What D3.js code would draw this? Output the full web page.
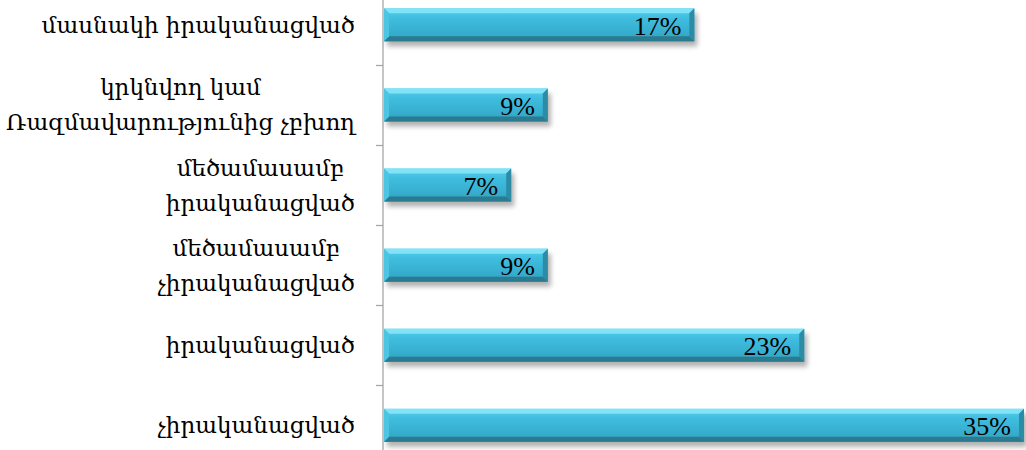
<!DOCTYPE html>
<html><head><meta charset="utf-8">
<script src="https://cdn.jsdelivr.net/npm/d3@7"></script>
<style>html,body{margin:0;padding:0;background:#fff;overflow:hidden}</style>
</head><body>
<svg id="chart" width="1026" height="450"></svg>
<script>
const categories = [
  ["մասնակի իրականացված"],
  ["կրկնվող կամ", "Ռազմավարությունից չբխող"],
  ["մեծամասամբ", "իրականացված"],
  ["մեծամասամբ", "չիրականացված"],
  ["իրականացված"],
  ["չիրականացված"]
];
const values = [17, 9, 7, 9, 23, 35];
const valueLabels = ["17%", "9%", "7%", "9%", "23%", "35%"];

const svg = d3.select("#chart");
const W = 1026, H = 450;
const axisX = 383;
const keys = categories.map((c, i) => "c" + i);

const x = d3.scaleLinear().domain([0, 35]).range([axisX, 1024]);
const y = d3.scaleBand().domain(keys).range([-15.2, 465.4]).padding(0);
const barH = 33;

const defs = svg.append("defs");
const grad = defs.append("linearGradient").attr("id", "face").attr("x1", 0).attr("y1", 0).attr("x2", 0).attr("y2", 1);
grad.append("stop").attr("offset", "0%").attr("stop-color", "#56cdea");
grad.append("stop").attr("offset", "30%").attr("stop-color", "#3fbddf");
grad.append("stop").attr("offset", "80%").attr("stop-color", "#35abcb");
grad.append("stop").attr("offset", "100%").attr("stop-color", "#2f97b4");
const f = defs.append("filter").attr("id", "shadow").attr("x", "-10%").attr("y", "-50%").attr("width", "120%").attr("height", "200%");
f.append("feGaussianBlur").attr("stdDeviation", 2.5);

// axis line
svg.append("line").attr("x1", axisX).attr("x2", axisX).attr("y1", 0).attr("y2", H)
  .attr("stroke", "#a6a6a6").attr("stroke-width", 1.3);
// ticks at band boundaries
svg.selectAll("line.tick").data(keys.slice(1)).join("line").attr("class", "tick")
  .attr("x1", axisX - 7).attr("x2", axisX)
  .attr("y1", d => Math.round(y(d)) + 0.5).attr("y2", d => Math.round(y(d)) + 0.5)
  .attr("stroke", "#a6a6a6").attr("stroke-width", 1.3);

const b = 5;
const g = svg.selectAll("g.bar").data(values.map((v, i) => ({v, i, k: keys[i]}))).join("g").attr("class", "bar");
g.each(function(d) {
  const s = d3.select(this);
  const x0 = x(0) + 1, x1 = x(d.v);
  const y0 = y(d.k) + (y.step() - barH) / 2, y1 = y0 + barH;
  s.append("rect").attr("x", x0 + 3).attr("y", y0 + 5).attr("width", x1 - x0).attr("height", barH)
    .attr("fill", "#000").attr("opacity", 0.3).attr("filter", "url(#shadow)");
  s.append("rect").attr("x", x0).attr("y", y0).attr("width", x1 - x0).attr("height", barH).attr("fill", "url(#face)");
  const poly = (pts, fill) => s.append("polygon").attr("points", pts.map(p => p.join(",")).join(" ")).attr("fill", fill);
  poly([[x0, y0], [x1, y0], [x1 - b, y0 + b], [x0 + b, y0 + b]], "#80e3f7");
  poly([[x0, y1], [x1, y1], [x1 - b, y1 - b], [x0 + b, y1 - b]], "#2a7b8f");
  poly([[x0, y0], [x0 + b, y0 + b], [x0 + b, y1 - b], [x0, y1]], "#4cc4e2");
  poly([[x1, y0], [x1 - b, y0 + b], [x1 - b, y1 - b], [x1, y1]], "#2c8ba5");
  s.append("text").attr("x", x1 - 13).attr("y", (y0 + y1) / 2 + 1.5).attr("text-anchor", "end")
    .attr("dominant-baseline", "central").attr("font-family", "Liberation Serif, serif").attr("font-size", 26)
    .attr("fill", "#000").text(valueLabels[d.i]);
});

// category labels
const lg = svg.selectAll("text.cat").data(categories.map((c, i) => ({c, k: keys[i]}))).join("text").attr("class", "cat")
  .attr("font-family", "DejaVu Serif, serif").attr("font-size", 23).attr("fill", "#000")
  .attr("dominant-baseline", "central");
lg.each(function(d) {
  const t = d3.select(this);
  const cy = y(d.k) + y.step() / 2;
  const n = d.c.length, lh = 35;
  d.c.forEach((line, j) => {
    t.append("tspan").attr("y", cy + (j - (n - 1) / 2) * lh).attr("x", 0).text(line);
  });
  const widths = [];
  t.selectAll("tspan").each(function() { widths.push(this.getComputedTextLength()); });
  const maxW = d3.max(widths);
  const center = 355 - maxW / 2;
  t.selectAll("tspan").attr("x", center).attr("text-anchor", "middle");
});
</script>
</body></html>
